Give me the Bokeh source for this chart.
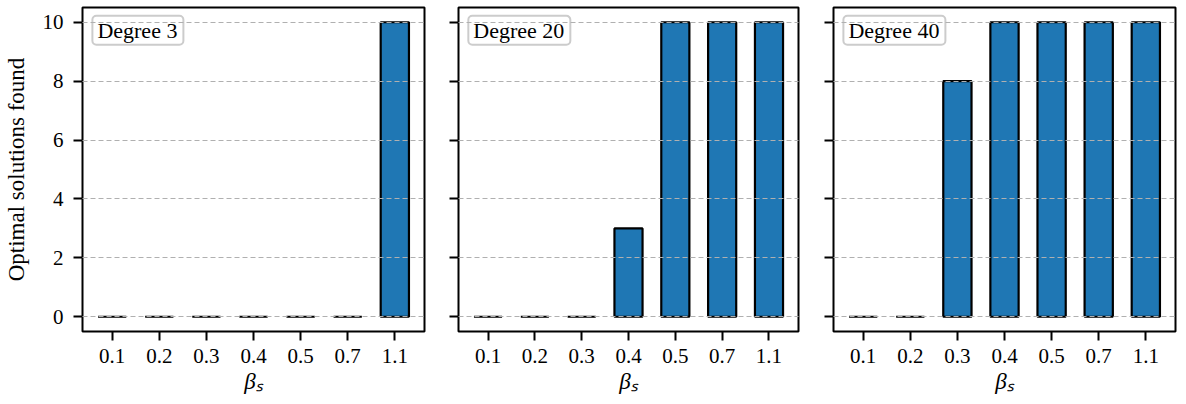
from bokeh.plotting import figure
from bokeh.layouts import row
from bokeh.models import Range1d, FixedTicker, Label, ColumnDataSource
from bokeh.embed import file_html
from bokeh.resources import INLINE

categories = ["0.1", "0.2", "0.3", "0.4", "0.5", "0.7", "1.1"]
degree_3 = [0, 0, 0, 0, 0, 0, 10]
degree_20 = [0, 0, 0, 3, 10, 10, 10]
degree_40 = [0, 0, 8, 10, 10, 10, 10]
titles = ["Degree 3", "Degree 20", "Degree 40"]
y_ticks = [0, 2, 4, 6, 8, 10]

FONT = "Liberation Serif"
series = [degree_3, degree_20, degree_40]
borders = [(75, 17), (17, 17), (18, 2)]
frame_w = [342, 340, 342]

figs = []
for i, (vals, title) in enumerate(zip(series, titles)):
    xs = list(range(len(categories)))
    src = ColumnDataSource(dict(x=xs, top=vals))
    p = figure(frame_width=frame_w[i], frame_height=324,
               min_border_left=borders[i][0], min_border_right=borders[i][1],
               min_border_top=7, min_border_bottom=66,
               x_range=Range1d(-0.63, 6.63), y_range=Range1d(-0.5, 10.5),
               output_backend="svg", toolbar_location=None)
    p.vbar(x="x", top="top", bottom=0, width=0.6, source=src,
           fill_color="#1f77b4", line_color="black", line_width=2.2)
    p.xaxis.ticker = FixedTicker(ticks=xs)
    p.xaxis.major_label_overrides = {j: c for j, c in enumerate(categories)}
    p.yaxis.ticker = FixedTicker(ticks=y_ticks)
    p.xgrid.visible = False
    p.ygrid.level = "overlay"
    p.ygrid.grid_line_color = "#b0b0b0"
    p.ygrid.grid_line_width = 1
    p.ygrid.grid_line_dash = "5 3"
    p.outline_line_color = "black"
    p.outline_line_width = 2
    p.outline_line_alpha = 1
    for ax in (p.xaxis[0], p.yaxis[0]):
        ax.axis_line_color = None
        ax.major_tick_in = 0
        ax.major_tick_out = 9
        ax.major_tick_line_width = 2
        ax.major_tick_line_color = "black"
        ax.minor_tick_line_color = None
        ax.major_label_text_font = FONT
        ax.major_label_text_font_size = "21px"
        ax.major_label_text_color = "black"
        ax.axis_label_text_font = FONT
        ax.axis_label_text_font_size = "23px"
        ax.axis_label_text_font_style = "normal"
        ax.axis_label_text_color = "black"
    p.xaxis.major_label_standoff = 8
    p.xaxis.axis_label = "βₛ"
    p.xaxis.axis_label_text_font_style = "italic"
    p.xaxis.axis_label_standoff = 3
    if i == 0:
        p.yaxis.axis_label = "Optimal solutions found"
        p.yaxis.major_label_standoff = 10
        p.yaxis.axis_label_standoff = 11
    else:
        p.yaxis.major_label_overrides = {t: "" for t in y_ticks}
        p.yaxis.major_label_standoff = 0
    p.add_layout(Label(x=-0.42, y=10.22, text=title, text_align="left",
                       text_baseline="top", text_font=FONT,
                       text_font_size="22px", text_color="black",
                       background_fill_color="white", background_fill_alpha=0.8,
                       border_line_color="#cccccc", border_line_width=2,
                       padding=dict(left=5, right=6, top=2, bottom=2),
                       border_radius=4))
    figs.append(p)

layout = row(*figs)
open("out.html", "w").write(file_html(layout, INLINE))
